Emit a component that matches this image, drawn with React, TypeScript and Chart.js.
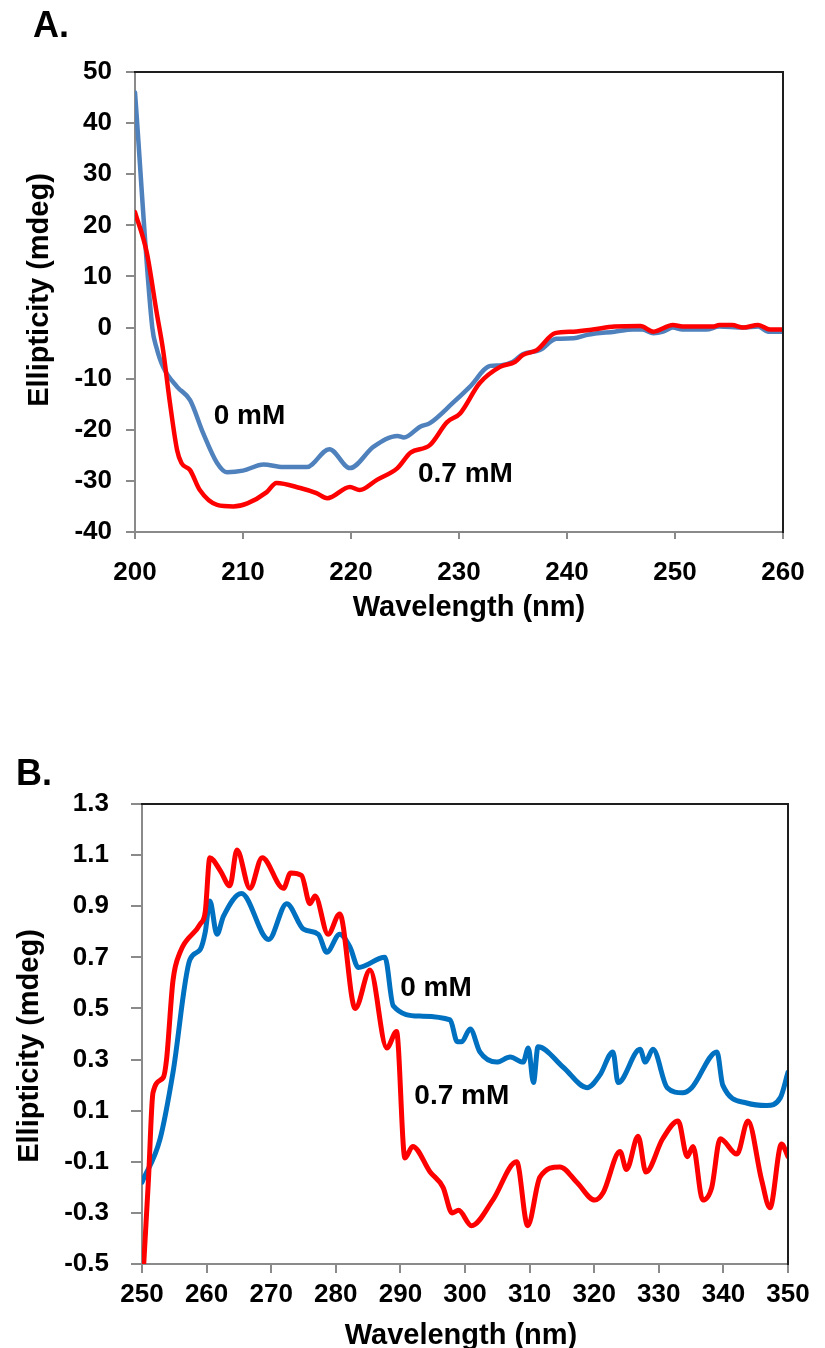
import React, { useEffect, useRef } from "react";
import { Chart, registerables } from "chart.js";

Chart.register(...registerables);

const FONT = "'Liberation Sans', Arial, Helvetica, sans-serif";

// ---------- Panel A data ----------
const aPanelLabel = "A.";
const aXTicks = [200, 210, 220, 230, 240, 250, 260];
const aYTicks = [-40, -30, -20, -10, 0, 10, 20, 30, 40, 50];
const aBlueX = [200, 201.6, 202, 202.6, 203.9, 205.1, 206.3, 207.6, 208.5, 210, 211.9, 213.7, 215.9, 218, 219.9, 222.1, 224.3, 224.9, 226.4, 227.3, 229.4, 231, 232.9, 233.8, 235, 235.9, 237.5, 239, 240.6, 241.9, 244.4, 246.1, 247, 248, 248.9, 249.8, 250.7, 252.9, 254.1, 256.3, 257.7, 258.6, 260];
const aBlueY = [46, 0, -4, -7.7, -11.6, -14.2, -20.6, -26.5, -28.3, -28, -26.8, -27.3, -27.3, -23.8, -27.5, -23.3, -21.2, -21.5, -19.4, -18.7, -14.8, -11.6, -7.5, -7.4, -6.7, -5.2, -4.4, -2.2, -2.1, -1.4, -0.8, -0.4, -0.4, -1.1, -0.8, 0, -0.4, -0.4, 0.2, 0, 0.2, -0.8, -0.8];
const aRedX = [200, 201.1, 202, 202.6, 203.2, 203.9, 204.3, 205.1, 206, 207.6, 209.1, 210.4, 212.2, 213.1, 215.3, 216.8, 217.8, 219.9, 220.8, 222.4, 224.3, 225.5, 227.3, 228.9, 230.1, 231.9, 233.8, 235.2, 235.9, 237.2, 238.9, 240.6, 242.4, 244.4, 246.8, 248, 249.8, 250.7, 253.5, 254.1, 255.3, 256.3, 257.7, 258.8, 260];
const aRedY = [22.6, 14.6, 3, -4.4, -14.2, -24, -26.5, -27.9, -31.8, -34.7, -35, -34.4, -32.2, -30.4, -31.4, -32.4, -33.4, -31.2, -31.8, -29.8, -27.5, -24.5, -23, -18.5, -16.8, -10.9, -7.7, -6.7, -5.4, -4.4, -1.1, -0.8, -0.4, 0.2, 0.3, -0.8, 0.5, 0.2, 0.2, 0.5, 0.5, 0, 0.5, -0.4, -0.4];
// annotation anchors (data coordinates)
const aLabelBlue = { text: "0 mM", x: 210.6, y: -17.3 };
const aLabelRed = { text: "0.7 mM", x: 230.6, y: -28.7 };

// ---------- Panel B data ----------
const bPanelLabel = "B.";
const bXTicks = [250, 260, 270, 280, 290, 300, 310, 320, 330, 340, 350];
const bYTicks = [-0.5, -0.3, -0.1, 0.1, 0.3, 0.5, 0.7, 0.9, 1.1, 1.3];
const bBlueX = [250, 252.8, 254.8, 257.4, 259, 259.8, 260.5, 261.6, 262.6, 265.4, 269.6, 272.4, 275, 277.3, 278.6, 280.6, 282.2, 283.5, 287.6, 288.9, 293, 297.7, 298.8, 299.5, 300.8, 302.3, 304.9, 307, 309, 309.8, 310.6, 311.3, 315.2, 318.9, 320.9, 322.9, 323.7, 327.1, 327.9, 329.1, 331.3, 333.7, 335.1, 339, 339.9, 343.6, 346.7, 348.8, 350];
const bBlueY = [-0.18, -0.01, 0.25, 0.69, 0.73, 0.8, 0.92, 0.79, 0.86, 0.95, 0.77, 0.91, 0.81, 0.79, 0.72, 0.79, 0.74, 0.66, 0.7, 0.51, 0.47, 0.455, 0.37, 0.37, 0.42, 0.33, 0.29, 0.31, 0.29, 0.345, 0.21, 0.35, 0.27, 0.19, 0.24, 0.33, 0.21, 0.34, 0.29, 0.34, 0.19, 0.17, 0.19, 0.33, 0.2, 0.13, 0.12, 0.15, 0.25];
const bRedX = [250, 251, 251.7, 253.3, 253.8, 254.8, 255.9, 259, 259.8, 260.5, 262.1, 263.6, 264.7, 266.7, 268.6, 271.9, 273, 274.7, 276, 276.8, 278.8, 280.6, 283, 285.3, 287.9, 289.4, 290.7, 291.9, 294.6, 296.6, 298, 299, 301, 304.3, 308, 309.7, 311.6, 314.7, 317.3, 320.1, 321.4, 324, 325, 326.8, 328, 330.6, 333, 334.4, 335.3, 336.8, 338.2, 339.5, 342.1, 343.8, 345.9, 347.2, 349, 350];
const bRedY = [-0.62, -0.17, 0.17, 0.23, 0.3, 0.61, 0.72, 0.83, 0.88, 1.09, 1.04, 0.98, 1.12, 0.97, 1.09, 0.97, 1.03, 1.02, 0.91, 0.94, 0.79, 0.87, 0.5, 0.65, 0.345, 0.41, -0.085, -0.04, -0.14, -0.2, -0.3, -0.29, -0.35, -0.25, -0.1, -0.35, -0.16, -0.12, -0.18, -0.25, -0.22, -0.06, -0.13, 0, -0.14, -0.01, 0.06, -0.08, -0.04, -0.25, -0.2, -0.01, -0.07, 0.06, -0.17, -0.28, -0.03, -0.08];
const bLabelBlue = { text: "0 mM", x: 295.5, y: 0.58 };
const bLabelRed = { text: "0.7 mM", x: 299.5, y: 0.157 };

const xTitle = "Wavelength (nm)";
const yTitle = "Ellipticity (mdeg)";

const toPts = (xs: number[], ys: number[]) => xs.map((x, i) => ({ x, y: ys[i] }));

type PanelSpec = {
  top: number;
  height: number;
  area: { left: number; right: number; top: number; bottom: number };
  xTicks: number[];
  yTicks: number[];
  yDigits: number;
  xTickLen: number;
  xTickPad: number;
  yTickLen: number;
  yTickPad: number;
  blue: { x: number; y: number }[];
  red: { x: number; y: number }[];
  blueColor: string;
  lineWidth: number;
  labels: { text: string; x: number; y: number }[];
  panelLabel: string;
  panelLabelPos: { x: number; y: number };
  yTitlePos: { x: number; y: number };
  xTitlePos: { x: number; y: number };
};

const GRAY = "#8a8a8a";

function makeConfig(s: PanelSpec): any {
  const textPlugin = {
    id: "panelText",
    afterDraw(chart: any) {
      const ctx = chart.ctx as CanvasRenderingContext2D;
      const a = chart.chartArea;
      ctx.save();
      // top and right frame
      ctx.strokeStyle = "#1e1e1e";
      ctx.lineWidth = 2;
      ctx.beginPath();
      ctx.moveTo(a.left - 1, a.top);
      ctx.lineTo(a.right, a.top);
      ctx.lineTo(a.right, a.bottom + 1);
      ctx.stroke();
      ctx.fillStyle = "#000";
      // series annotations
      ctx.font = `bold 28px ${FONT}`;
      ctx.textAlign = "center";
      ctx.textBaseline = "middle";
      const xs = chart.scales.x;
      const ys = chart.scales.y;
      s.labels.forEach((l) => {
        ctx.fillText(l.text, xs.getPixelForValue(l.x), ys.getPixelForValue(l.y));
      });
      // axis titles
      ctx.font = `bold 29px ${FONT}`;
      ctx.fillText(xTitle, s.xTitlePos.x, s.xTitlePos.y);
      ctx.save();
      ctx.translate(s.yTitlePos.x, s.yTitlePos.y);
      ctx.rotate(-Math.PI / 2);
      ctx.fillText(yTitle, 0, 0);
      ctx.restore();
      // panel letter
      ctx.font = `bold 36px ${FONT}`;
      ctx.textAlign = "left";
      ctx.textBaseline = "alphabetic";
      ctx.fillText(s.panelLabel, s.panelLabelPos.x, s.panelLabelPos.y);
      ctx.restore();
    },
  };

  const lineStyle = {
    borderWidth: s.lineWidth,
    pointRadius: 0,
    cubicInterpolationMode: "monotone",
    fill: false,
    borderJoinStyle: "round",
    borderCapStyle: "round",
  };

  return {
    type: "line",
    data: {
      datasets: [
        { label: "0.7 mM", data: s.red, borderColor: "#ff0000", ...lineStyle },
        { label: "0 mM", data: s.blue, borderColor: s.blueColor, ...lineStyle },
      ],
    },
    options: {
      responsive: false,
      animation: false,
      devicePixelRatio: 1,
      layout: {
        padding: { top: s.area.top, right: 825 - s.area.right, left: 0, bottom: 0 },
      },
      plugins: { legend: { display: false }, tooltip: { enabled: false } },
      scales: {
        x: {
          type: "linear",
          min: s.xTicks[0],
          max: s.xTicks[s.xTicks.length - 1],
          afterBuildTicks: (sc: any) => {
            sc.ticks = s.xTicks.map((v) => ({ value: v }));
          },
          afterFit: (sc: any) => {
            sc.height = s.height - s.area.bottom;
          },
          grid: { drawOnChartArea: false, drawTicks: true, tickLength: s.xTickLen, color: GRAY, lineWidth: 2 },
          border: { display: true, color: GRAY, width: 2 },
          ticks: {
            autoSkip: false,
            maxRotation: 0,
            padding: s.xTickPad,
            color: "#000",
            font: { family: FONT, size: 26, weight: "bold" },
            callback: (v: number) => String(v),
          },
        },
        y: {
          type: "linear",
          min: s.yTicks[0],
          max: s.yTicks[s.yTicks.length - 1],
          afterBuildTicks: (sc: any) => {
            sc.ticks = s.yTicks.map((v) => ({ value: v }));
          },
          afterFit: (sc: any) => {
            sc.width = s.area.left;
          },
          grid: { drawOnChartArea: false, drawTicks: true, tickLength: s.yTickLen, color: GRAY, lineWidth: 2 },
          border: { display: true, color: GRAY, width: 2 },
          ticks: {
            autoSkip: false,
            padding: s.yTickPad,
            color: "#000",
            font: { family: FONT, size: 26, weight: "bold" },
            callback: (v: number) => Number(v).toFixed(s.yDigits),
          },
        },
      },
    },
    plugins: [textPlugin],
  };
}

const panelA: PanelSpec = {
  top: 0,
  height: 650,
  area: { left: 135, right: 783, top: 72, bottom: 532 },
  xTicks: aXTicks,
  yTicks: aYTicks,
  yDigits: 0,
  xTickLen: 7,
  xTickPad: 18,
  yTickLen: 9,
  yTickPad: 14,
  blue: toPts(aBlueX, aBlueY),
  red: toPts(aRedX, aRedY),
  blueColor: "#4f81bd",
  lineWidth: 4.5,
  labels: [aLabelBlue, aLabelRed],
  panelLabel: aPanelLabel,
  panelLabelPos: { x: 33, y: 37 },
  yTitlePos: { x: 40, y: 290 },
  xTitlePos: { x: 469, y: 608 },
};

const panelB: PanelSpec = {
  top: 650,
  height: 698,
  area: { left: 142, right: 788, top: 154, bottom: 614 },
  xTicks: bXTicks,
  yTicks: bYTicks,
  yDigits: 1,
  xTickLen: 9,
  xTickPad: 6,
  yTickLen: 11,
  yTickPad: 22,
  blue: toPts(bBlueX, bBlueY),
  red: toPts(bRedX, bRedY),
  blueColor: "#0070c0",
  lineWidth: 5,
  labels: [bLabelBlue, bLabelRed],
  panelLabel: bPanelLabel,
  panelLabelPos: { x: 16, y: 135 },
  yTitlePos: { x: 30, y: 396 },
  xTitlePos: { x: 461, y: 686 },
};

function Panel({ spec }: { spec: PanelSpec }) {
  const ref = useRef<HTMLCanvasElement>(null);
  useEffect(() => {
    const chart = new Chart(ref.current as HTMLCanvasElement, makeConfig(spec));
    return () => chart.destroy();
  }, [spec]);
  return (
    <canvas
      ref={ref}
      width={825}
      height={spec.height}
      style={{ position: "absolute", left: 0, top: spec.top, width: 825, height: spec.height, display: "block" }}
    />
  );
}

export default function App() {
  return (
    <div style={{ position: "absolute", left: 0, top: 0, width: 825, height: 1348, background: "#fff", overflow: "hidden" }}>
      <Panel spec={panelA} />
      <Panel spec={panelB} />
    </div>
  );
}
